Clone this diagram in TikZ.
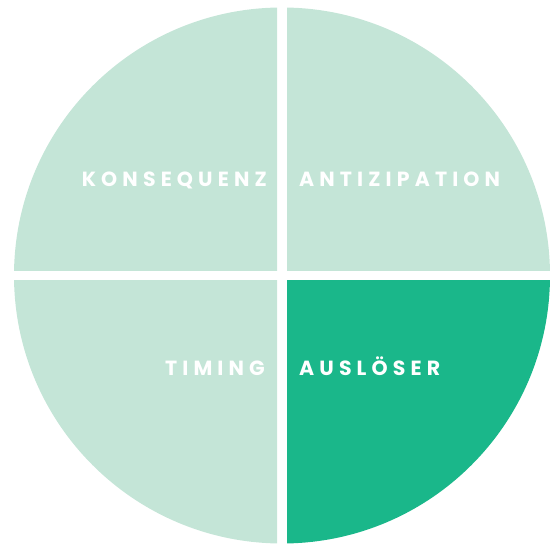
\documentclass[tikz,border=0pt]{standalone}
\usepackage{fontspec}
\setmainfont{Poppins}
\newfontfamily\labfont[LetterSpace=25]{Poppins}
\definecolor{mintlight}{HTML}{C4E5D7}
\definecolor{mintdark}{HTML}{1AB78A}
\begin{document}
\begin{tikzpicture}[x=1pt,y=-1pt,
  lab/.style={text=white,inner sep=0pt,font=\labfont\bfseries\fontsize{20.5}{20.5}\selectfont}]
\useasboundingbox (0,0) rectangle (550,545);
\coordinate (c) at (282,275.5);
\begin{scope}
\clip (0,0) rectangle (277,270.5);
\fill[mintlight] (c) circle[radius=268];
\end{scope}
\begin{scope}
\clip (287,0) rectangle (550,270.5);
\fill[mintlight] (c) circle[radius=268];
\end{scope}
\begin{scope}
\clip (0,280.5) rectangle (277,545);
\fill[mintlight] (c) circle[radius=268];
\end{scope}
\begin{scope}
\clip (287,280.5) rectangle (550,545);
\fill[mintdark] (c) circle[radius=268];
\end{scope}
\node[lab,anchor=base east] (kons) at (267,187) {KONSEQUENZ};
\node[lab,anchor=base west] (anti) at (299,187) {ANTIZIPATION};
\node[lab,anchor=base east] (timing) at (265,376) {TIMING};
\node[lab,anchor=base west] (ausl) at (299,376) {AUSLÖSER};
\end{tikzpicture}
\end{document}
